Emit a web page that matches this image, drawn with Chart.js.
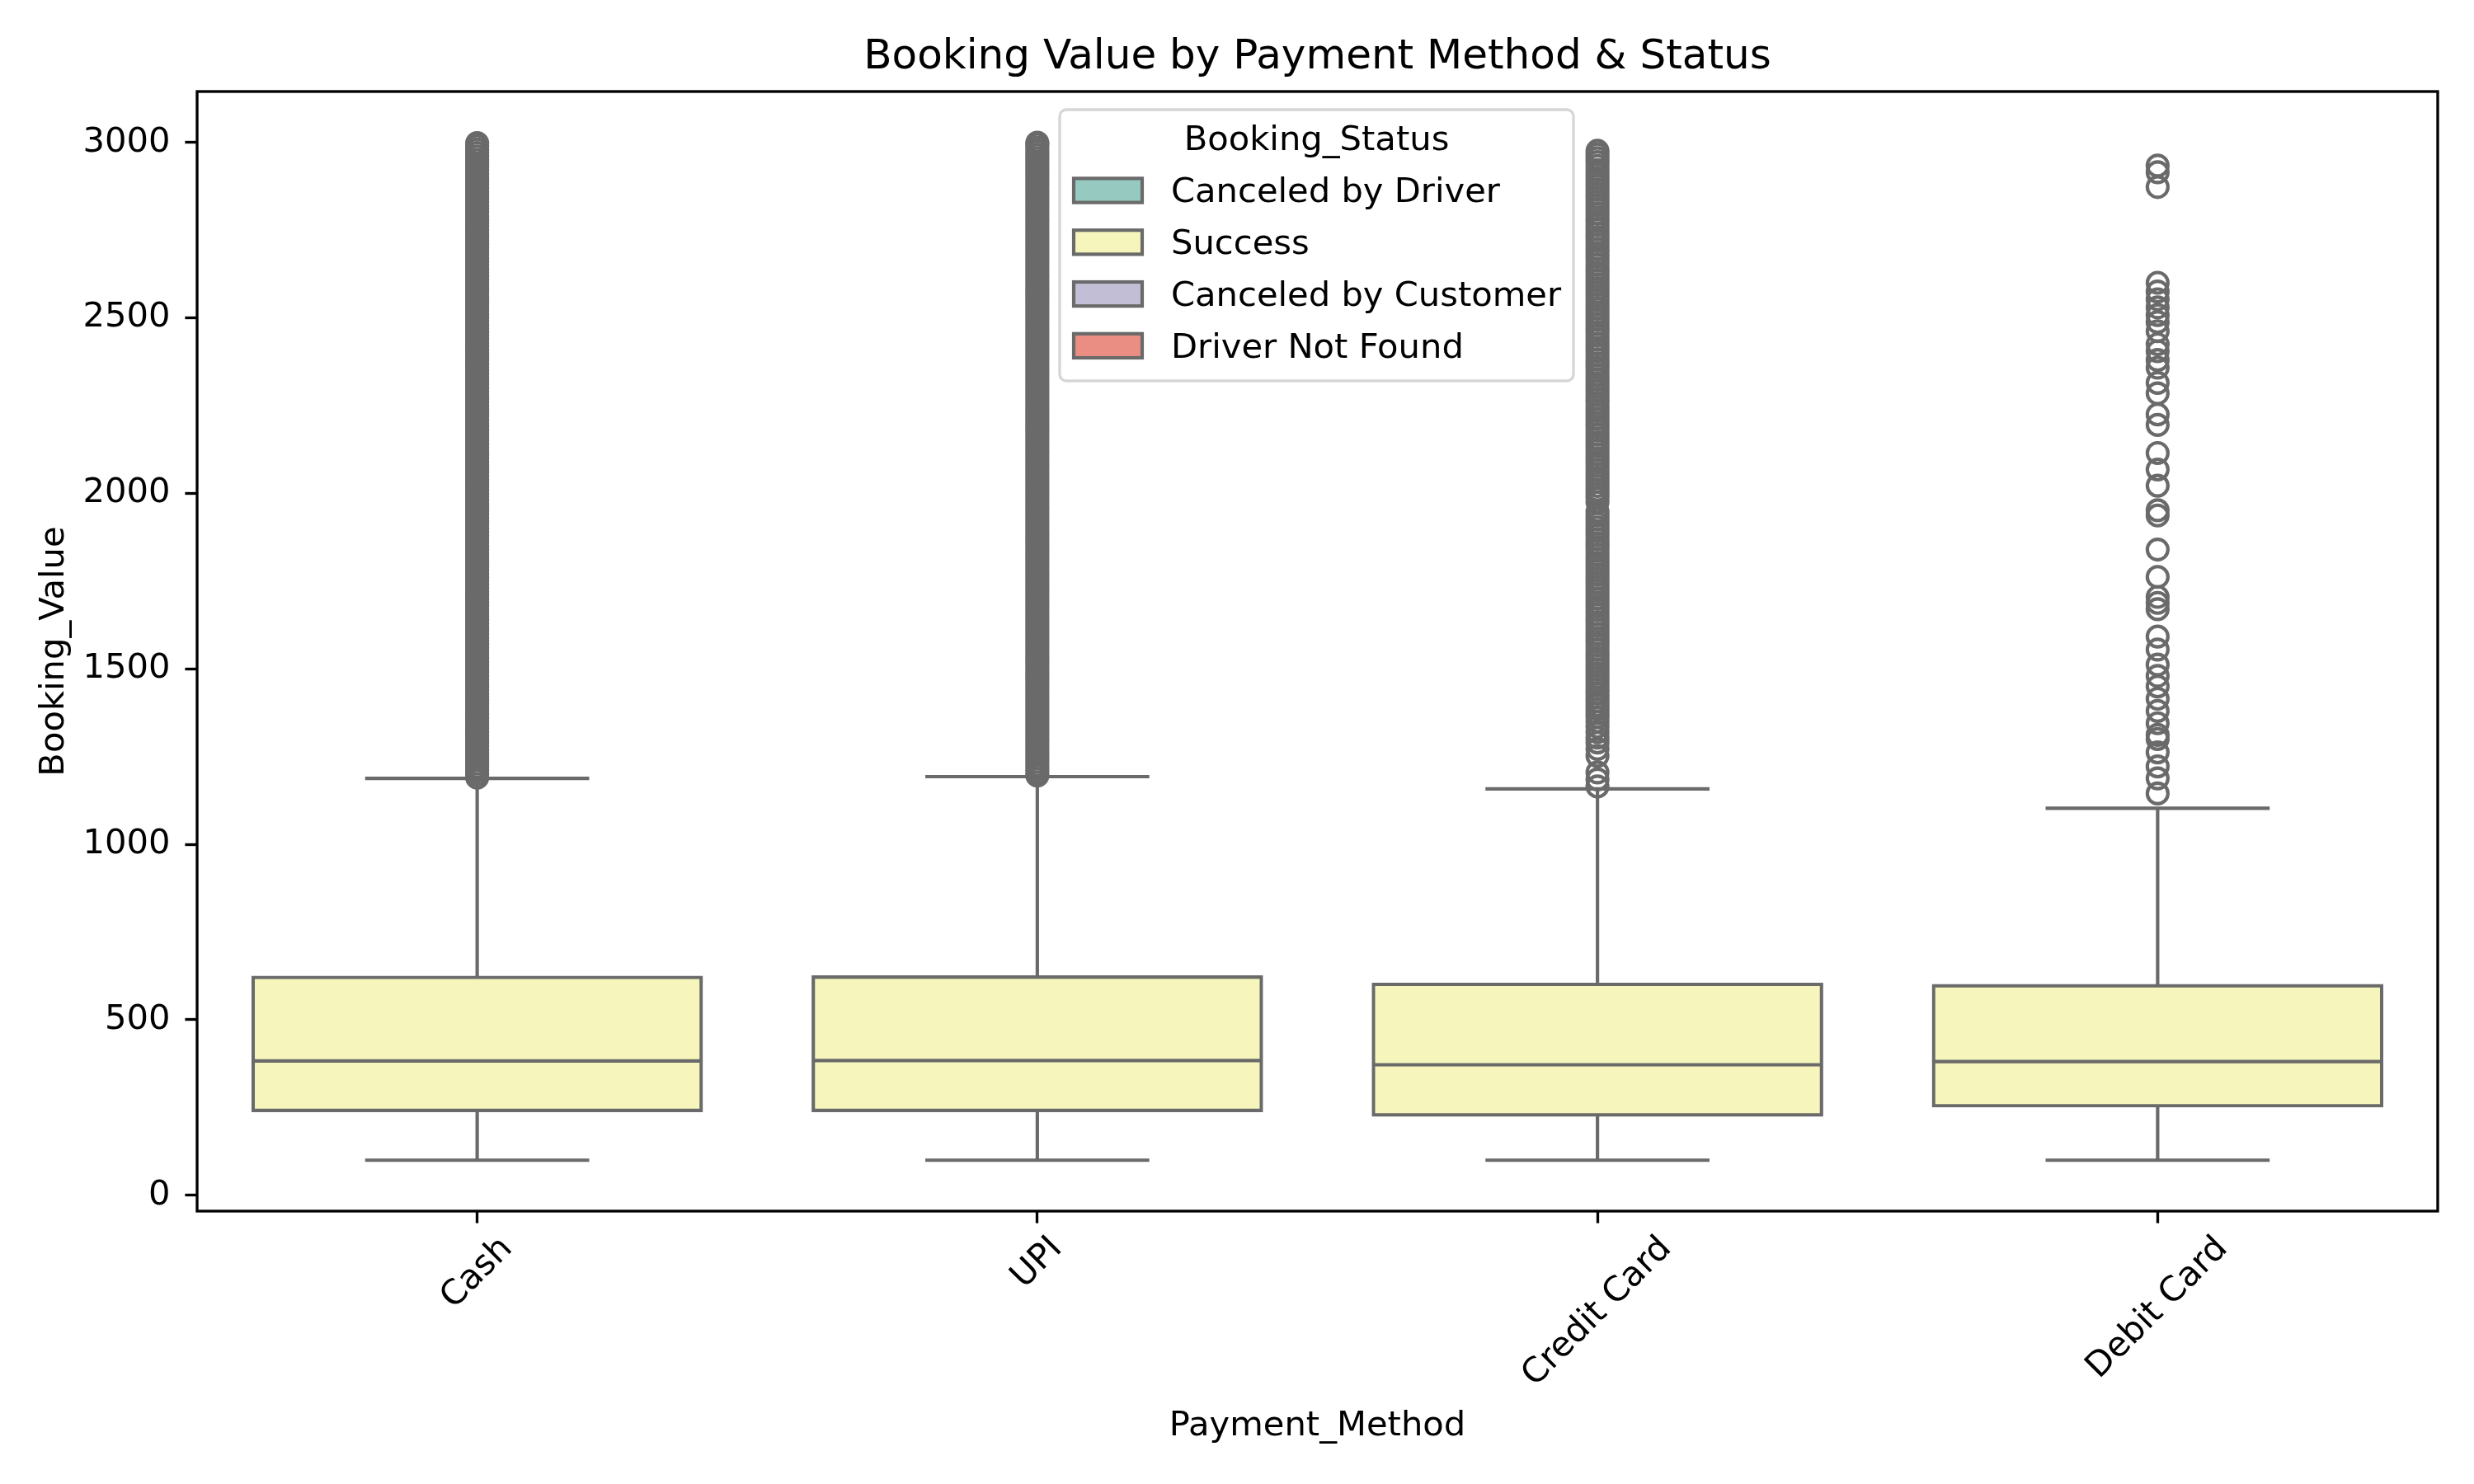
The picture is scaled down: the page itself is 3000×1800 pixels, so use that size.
<!DOCTYPE html>
<html><head><meta charset="utf-8">
<script src="https://cdn.jsdelivr.net/npm/chart.js@4.4.0/dist/chart.umd.min.js"></script>
<style>html,body{margin:0;padding:0;background:#fff}#wrap{width:3000px;height:1800px}</style>
</head><body><div id="wrap"><canvas id="c" width="3000" height="1800"></canvas></div>
<script>
// ---------------- data ----------------
const categories = ["Cash", "UPI", "Credit Card", "Debit Card"];
const statuses = ["Canceled by Driver", "Success", "Canceled by Customer", "Driver Not Found"];
const yTicks = [0, 500, 1000, 1500, 2000, 2500, 3000];

// box statistics of the "Success" group, one value per payment method
const whiskerLow  = [100, 100, 100, 100];
const q1          = [242, 242, 229, 255];
const median      = [383, 384, 372, 381];
const q3          = [621, 622, 601, 597];
const whiskerHigh = [1188, 1193, 1158, 1103];

const outliersCash = [
1190,1200,1210,1220,1230,1240,1250,1260,1270,1280,1290,
1300,1310,1320,1330,1340,1350,1360,1370,1380,1390,
1400,1410,1420,1430,1440,1450,1460,1470,1480,1490,
1500,1510,1520,1530,1540,1550,1560,1570,1580,1590,
1600,1610,1620,1630,1640,1650,1660,1670,1680,1690,
1700,1710,1720,1730,1740,1750,1760,1770,1780,1790,
1800,1810,1820,1830,1840,1850,1860,1870,1880,1890,
1900,1910,1920,1930,1940,1950,1960,1970,1980,1990,
2000,2010,2020,2030,2040,2050,2060,2070,2080,2090,
2100,2110,2120,2130,2140,2150,2160,2170,2180,2190,
2200,2210,2220,2230,2240,2250,2260,2270,2280,2290,
2300,2310,2320,2330,2340,2350,2360,2370,2380,2390,
2400,2410,2420,2430,2440,2450,2460,2470,2480,2490,
2500,2510,2520,2530,2540,2550,2560,2570,2580,2590,
2600,2610,2620,2630,2640,2650,2660,2670,2680,2690,
2700,2710,2720,2730,2740,2750,2760,2770,2780,2790,
2800,2810,2820,2830,2840,2850,2860,2870,2880,2890,
2900,2910,2920,2930,2940,2950,2960,2970,2980,2990,2998];

const outliersUPI = [
1196,1205,1215,1225,1235,1245,1255,1265,1275,1285,1295,
1305,1315,1325,1335,1345,1355,1365,1375,1385,1395,
1405,1415,1425,1435,1445,1455,1465,1475,1485,1495,
1505,1515,1525,1535,1545,1555,1565,1575,1585,1595,
1605,1615,1625,1635,1645,1655,1665,1675,1685,1695,
1705,1715,1725,1735,1745,1755,1765,1775,1785,1795,
1805,1815,1825,1835,1845,1855,1865,1875,1885,1895,
1905,1915,1925,1935,1945,1955,1965,1975,1985,1995,
2005,2015,2025,2035,2045,2055,2065,2075,2085,2095,
2105,2115,2125,2135,2145,2155,2165,2175,2185,2195,
2205,2215,2225,2235,2245,2255,2265,2275,2285,2295,
2305,2315,2325,2335,2345,2355,2365,2375,2385,2395,
2405,2415,2425,2435,2445,2455,2465,2475,2485,2495,
2505,2515,2525,2535,2545,2555,2565,2575,2585,2595,
2605,2615,2625,2635,2645,2655,2665,2675,2685,2695,
2705,2715,2725,2735,2745,2755,2765,2775,2785,2795,
2805,2815,2825,2835,2845,2855,2865,2875,2885,2895,
2905,2915,2925,2935,2945,2955,2965,2975,2985,2995,2999];

const outliersCredit = [
2976,2966,2955,2944,2933,2921,2910,2899,2888,2876,2865,2854,2843,2831,2820,2809,
2798,2786,2775,2764,2753,2741,2730,2719,2708,2696,2685,2674,2663,2651,2640,2629,
2618,2606,2595,2584,2573,2561,2550,2539,2528,2516,2505,2494,2483,2471,2460,2449,
2438,2426,2415,2404,2393,2381,2370,2359,2348,2336,2325,2314,2303,2291,2280,2269,
2258,2246,2235,2224,2213,2201,2190,2179,2168,2156,2145,2134,2123,2111,2100,2089,
2078,2066,2055,2044,2033,2021,2010,1999,1988,1975,1948,1937,1926,1914,1903,1892,
1881,1869,1858,1847,1836,1824,1813,1802,1791,1779,1768,1757,1746,1734,1723,1712,
1701,1689,1678,1667,1656,1644,1633,1622,1611,1599,1588,1577,1566,1554,1543,1532,
1521,1509,1498,1487,1476,1464,1453,1442,1431,1419,1408,1397,1386,1374,1363,1350,
1335,1320,1304,1290,1272,1252,1205,1185,1165];

const outliersDebit = [
2934,2915,2873,2600,2575,2553,2530,2508,2488,2462,2425,2405,2380,2358,2315,2285,
2225,2195,2115,2068,2022,1952,1937,1840,1762,1705,1688,1670,1592,1555,1512,1480,
1450,1415,1380,1345,1312,1300,1262,1222,1188,1145];

const outliers = [outliersCash, outliersUPI, outliersCredit, outliersDebit];

// ---------------- styles ----------------
const statusColors = ["#96cac1", "#f6f6bc", "#c1bed6", "#ea8e83"];
const LINE = "#6a6a6a";
const FONT = '"DejaVu Sans", sans-serif';
const FS = 41.67;
const LW = 4.17;
const SPINE = 3.33;

// ---------------- build datasets ----------------
const successIdx = statuses.indexOf("Success");
const boxData = categories.map((c, i) => [q1[i], q3[i]]);
const outlierPoints = [];
categories.forEach((c, i) => outliers[i].forEach(v => outlierPoints.push({x: c, y: v})));

const datasets = statuses.map((s, k) => ({
  type: 'bar',
  label: s,
  data: k === successIdx ? boxData : categories.map(() => null),
  backgroundColor: statusColors[k],
  borderColor: LINE,
  borderWidth: LW,
  borderSkipped: false,
  inflateAmount: LW / 2,
  grouped: false,
  categoryPercentage: 0.8,
  barPercentage: 1.0,
  order: 2
}));
datasets.push({
  type: 'line',
  label: '_outliers',
  data: outlierPoints,
  showLine: false,
  pointStyle: 'circle',
  pointRadius: 12.5,
  pointBorderWidth: LW,
  pointBorderColor: LINE,
  pointBackgroundColor: 'rgba(0,0,0,0)',
  order: 1
});

// ---------------- plugins ----------------
const boxPlugin = {
  id: 'boxParts',
  beforeDatasetsDraw(chart) {
    const ctx = chart.ctx, xs = chart.scales.x, ys = chart.scales.y;
    const catW = xs.getPixelForValue(1) - xs.getPixelForValue(0);
    ctx.save();
    ctx.strokeStyle = LINE; ctx.lineWidth = LW; ctx.lineCap = 'butt';
    categories.forEach((c, i) => {
      const x = xs.getPixelForValue(i);
      const capHalf = catW * 0.2;
      ctx.beginPath();
      ctx.moveTo(x, ys.getPixelForValue(q3[i])); ctx.lineTo(x, ys.getPixelForValue(whiskerHigh[i]));
      ctx.moveTo(x, ys.getPixelForValue(q1[i])); ctx.lineTo(x, ys.getPixelForValue(whiskerLow[i]));
      ctx.stroke();
      ctx.beginPath();
      const yh = ys.getPixelForValue(whiskerHigh[i]), yl = ys.getPixelForValue(whiskerLow[i]);
      ctx.moveTo(x - capHalf, yh); ctx.lineTo(x + capHalf, yh);
      ctx.moveTo(x - capHalf, yl); ctx.lineTo(x + capHalf, yl);
      ctx.stroke();
    });
    ctx.restore();
  },
  afterDatasetsDraw(chart) {
    const ctx = chart.ctx, xs = chart.scales.x, ys = chart.scales.y, a = chart.chartArea;
    const catW = xs.getPixelForValue(1) - xs.getPixelForValue(0);
    ctx.save();
    ctx.strokeStyle = LINE; ctx.lineWidth = LW;
    categories.forEach((c, i) => {
      const x = xs.getPixelForValue(i), half = catW * 0.4;
      const ym = ys.getPixelForValue(median[i]);
      ctx.beginPath(); ctx.moveTo(x - half, ym); ctx.lineTo(x + half, ym); ctx.stroke();
    });
    // axes frame
    ctx.strokeStyle = '#000'; ctx.lineWidth = SPINE;
    ctx.strokeRect(a.left, a.top, a.right - a.left, a.bottom - a.top);
    ctx.restore();
  },
  afterDraw(chart) {
    const ctx = chart.ctx, xs = chart.scales.x, a = chart.chartArea;
    ctx.save();
    // rotated x tick labels, centred on the tick like matplotlib
    ctx.font = FS + 'px ' + FONT;
    ctx.fillStyle = '#000';
    ctx.textAlign = 'center'; ctx.textBaseline = 'middle';
    categories.forEach((c, i) => {
      const x = xs.getPixelForValue(i);
      const w = ctx.measureText(c).width;
      const cy = a.bottom + 22 + (w + 48.5) * 0.35355;
      ctx.save(); ctx.translate(x, cy); ctx.rotate(-Math.PI / 4);
      ctx.fillText(c, 0, 0); ctx.restore();
    });
    // legend
    const L = {x: 1285, y: 133, w: 623, h: 329};
    ctx.beginPath();
    ctx.roundRect(L.x, L.y, L.w, L.h, 8);
    ctx.fillStyle = 'rgba(255,255,255,0.8)'; ctx.fill();
    ctx.strokeStyle = '#d6d6d6'; ctx.lineWidth = SPINE; ctx.stroke();
    ctx.fillStyle = '#000'; ctx.textBaseline = 'alphabetic'; ctx.textAlign = 'center';
    ctx.fillText('Booking_Status', L.x + L.w / 2, 181.7);
    ctx.textAlign = 'left';
    const ds = chart.data.datasets.filter(d => statuses.includes(d.label));
    ds.forEach((d, k) => {
      const cy = 231 + k * 62.8;
      ctx.fillStyle = d.backgroundColor;
      ctx.fillRect(1302, cy - 14.6, 83, 29.2);
      ctx.strokeStyle = LINE; ctx.lineWidth = LW;
      ctx.strokeRect(1302, cy - 14.6, 83, 29.2);
      ctx.fillStyle = '#000';
      ctx.fillText(d.label, 1420, cy + 14.2);
    });
    ctx.restore();
  }
};

// ---------------- chart ----------------
new Chart(document.getElementById('c'), {
  type: 'bar',
  data: {labels: categories, datasets},
  options: {
    responsive: false,
    animation: false,
    devicePixelRatio: 1,
    layout: {padding: {left: 0, right: 44, top: 0, bottom: 0}},
    plugins: {
      legend: {display: false},
      tooltip: {enabled: false},
      title: {
        display: true,
        text: 'Booking Value by Payment Method & Status',
        color: '#000',
        font: {family: FONT, size: 50, weight: 'normal', lineHeight: 1.2},
        padding: {top: 40, bottom: 11},
        fullSize: false
      }
    },
    scales: {
      x: {
        type: 'category',
        offset: true,
        grid: {offset: false, drawOnChartArea: false, drawTicks: true, tickLength: 14.6,
               tickWidth: SPINE, tickColor: '#000', color: '#000'},
        border: {display: false},
        ticks: {display: false},
        title: {display: true, text: 'Payment_Method', color: '#000',
                font: {family: FONT, size: FS, lineHeight: 1.2}, padding: {top: 0, bottom: 44.4}},
        afterFit: s => { s.height = 331; }
      },
      y: {
        type: 'linear',
        min: -45, max: 3145,
        afterBuildTicks: s => { s.ticks = yTicks.map(v => ({value: v})); },
        grid: {drawOnChartArea: false, drawTicks: true, tickLength: 14.6,
               tickWidth: SPINE, tickColor: '#000', color: '#000'},
        border: {display: false},
        ticks: {color: '#000', font: {family: FONT, size: FS}, padding: 18,
                callback: v => String(v)},
        title: {display: true, text: 'Booking_Value', color: '#000',
                font: {family: FONT, size: FS, lineHeight: 1.2}, padding: {top: 41, bottom: 0}},
        afterFit: s => { s.width = 239; }
      }
    }
  },
  plugins: [boxPlugin]
});
</script>
</body></html>
